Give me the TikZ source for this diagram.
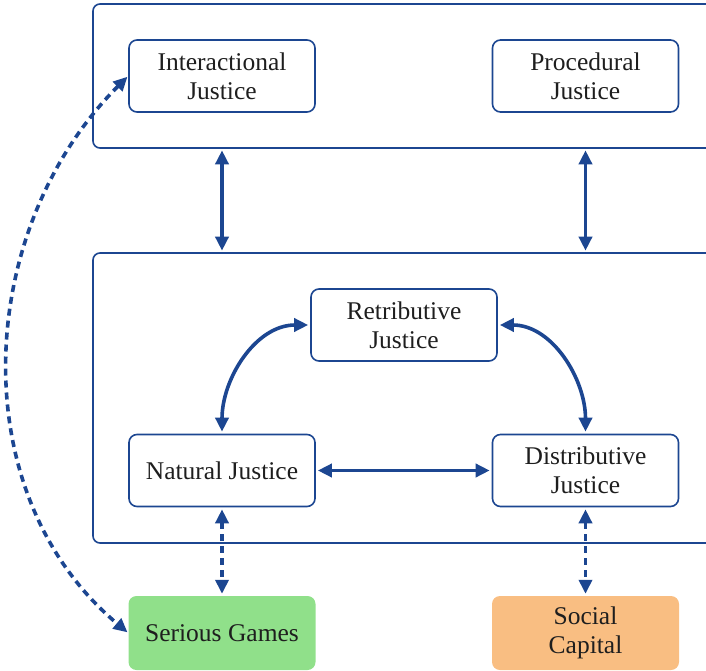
\documentclass[tikz,border=0pt]{standalone}
\usepackage{fontspec}
\setmainfont{Liberation Serif}
\usetikzlibrary{arrows.meta}
\definecolor{lineblue}{RGB}{28,70,145}
\definecolor{gamegreen}{RGB}{144,224,138}
\definecolor{capitalorange}{RGB}{249,190,130}
\definecolor{txt}{RGB}{30,30,30}
\begin{document}
\begin{tikzpicture}[x=1pt,y=-1pt,
  box/.style={draw=lineblue,line width=1.6pt,rounded corners=8pt,minimum width=186pt,minimum height=72pt,align=center,inner sep=0pt,text=txt,font=\fontsize{25.5}{29}\selectfont},
  fillbox/.style={rounded corners=8pt,minimum width=187pt,minimum height=74pt,align=center,inner sep=0pt,text=txt,font=\fontsize{25.5}{29}\selectfont},
  frame/.style={draw=lineblue,line width=1.6pt,rounded corners=7pt,inner sep=0pt},
  link/.style={draw=lineblue,line width=3.6pt,{Triangle[length=14pt,width=13pt]}-{Triangle[length=14pt,width=13pt]}},
  dlink/.style={link,dash pattern=on 7pt off 5pt}
]
\useasboundingbox (0,0) rectangle (706,671);
\clip (0,0) rectangle (706,671);
\node[frame,minimum width=640pt,minimum height=144pt] (top) at (413,76) {};
\node[frame,minimum width=640pt,minimum height=290pt] (mid) at (413,398) {};
\node[box] (inter) at (222,76) {Interactional\\Justice};
\node[box] (proc) at (585.5,76) {Procedural\\Justice};
\node[box] (ret) at (404,325) {Retributive\\Justice};
\node[box] (nat) at (222,470.5) {Natural Justice};
\node[box] (dist) at (585.5,470.5) {Distributive\\Justice};
\node[fillbox,fill=gamegreen] (games) at (222,633) {Serious Games};
\node[fillbox,fill=capitalorange] (social) at (585.5,633) {Social\\Capital};
\draw[link,shorten <=1.5pt,shorten >=1.5pt] (inter.south |- top.south) -- (inter.south |- mid.north);
\draw[link,shorten <=1.5pt,shorten >=1.5pt] (proc.south |- top.south) -- (proc.south |- mid.north);
\draw[link,shorten <=2pt,shorten >=2pt] (nat.north) to[out=90,in=180] (ret.west);
\draw[link,shorten <=2pt,shorten >=2pt] (ret.east) to[out=0,in=90] (dist.north);
\draw[link,shorten <=2pt,shorten >=2pt] (nat.east) -- (dist.west);
\draw[dlink,shorten <=2pt,shorten >=2pt] (nat.south) -- (games.north);
\draw[dlink,shorten <=2pt,shorten >=2pt] (dist.south) -- (social.north);
\draw[dlink,shorten <=1pt,shorten >=1pt] (inter.west) to[out=-135,in=140,looseness=1] (games.west);
\end{tikzpicture}
\end{document}
